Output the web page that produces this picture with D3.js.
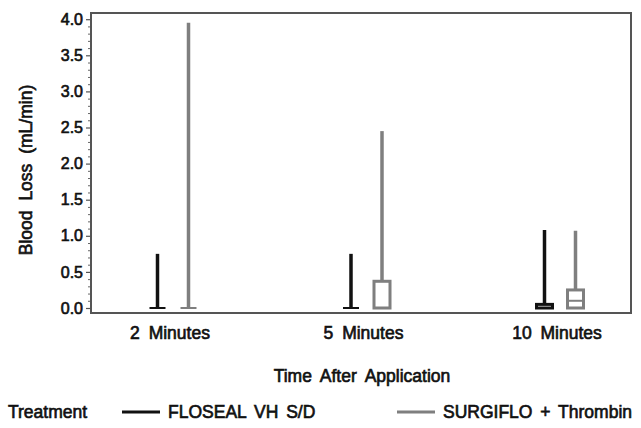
<!DOCTYPE html>
<html><head><meta charset="utf-8">
<script src="https://cdn.jsdelivr.net/npm/d3@7"></script>
<style>
html,body{margin:0;padding:0;background:#fff;}
text{font-family:"Liberation Sans",Arial,sans-serif;fill:#111;stroke:#111;stroke-width:0.65px;font-size:17.5px;}
</style></head>
<body>
<svg id="chart" width="641" height="428"></svg>
<script>
const categories = ["2 Minutes", "5 Minutes", "10 Minutes"];
const seriesNames = ["FLOSEAL VH S/D", "SURGIFLO + Thrombin"];
const seriesColors = ["#111111", "#7f7f7f"];
const flosealMin = [0, 0, 0];
const flosealQ1 = [0, 0, 0];
const flosealMedian = [0, 0, 0];
const flosealQ3 = [0, 0, 0.05];
const flosealMax = [0.75, 0.75, 1.08];
const surgifloMin = [0, 0, 0];
const surgifloQ1 = [0, 0, 0];
const surgifloMedian = [0, 0, 0.1];
const surgifloQ3 = [0, 0.37, 0.25];
const surgifloMax = [3.95, 2.45, 1.07];
const yTicks = [0, 0.5, 1, 1.5, 2, 2.5, 3, 3.5, 4];
const yMinorTicks = d3.range(0, 40).map(i => i / 10).filter(v => Math.abs(v * 2 - Math.round(v * 2)) > 1e-6);

const series = [
  {name: seriesNames[0], color: seriesColors[0], min: flosealMin, q1: flosealQ1, med: flosealMedian, q3: flosealQ3, max: flosealMax},
  {name: seriesNames[1], color: seriesColors[1], min: surgifloMin, q1: surgifloQ1, med: surgifloMedian, q3: surgifloQ3, max: surgifloMax}
];

const svg = d3.select("#chart");
const frame = {left: 91, top: 13, right: 631, bottom: 313};
const y = d3.scaleLinear().domain([0, 4]).range([308, 19.2]);
const x = d3.scalePoint().domain(categories).range([frame.left + 82, frame.right - 71]);
const dodge = d3.scalePoint().domain(seriesNames).range([-15.5, 15.5]);

// frame
svg.append("rect").attr("x", frame.left).attr("y", frame.top)
  .attr("width", frame.right - frame.left).attr("height", frame.bottom - frame.top)
  .attr("fill", "none").attr("stroke", "#555").attr("stroke-width", 2);

// y axis
const yAxis = d3.axisLeft(y).tickValues(yTicks).tickFormat(d3.format(".1f")).tickSize(4).tickPadding(3);
const gy = svg.append("g").attr("transform", `translate(${frame.left - 1},0)`).call(yAxis);
gy.select(".domain").remove();
gy.selectAll("line").attr("stroke", "#555").attr("stroke-width", 1.2);
gy.selectAll("text").attr("font-family", null).attr("font-size", null).attr("fill", "#111")
  .style("font-size", "16px");
const yMinor = d3.axisLeft(y).tickValues(yMinorTicks).tickFormat("").tickSize(2);
const gym = svg.append("g").attr("transform", `translate(${frame.left - 1},0)`).call(yMinor);
gym.select(".domain").remove();
gym.selectAll("line").attr("stroke", "#666").attr("stroke-width", 1);

// x labels
svg.append("g").selectAll("text").data(categories).join("text")
  .attr("x", d => x(d) - 3).attr("y", 339).attr("text-anchor", "middle")
  .attr("word-spacing", "4px")
  .text(d => d);

// axis titles
svg.append("text").attr("transform", "translate(32,170) rotate(-90)").attr("text-anchor", "middle")
  .attr("word-spacing", "5px").text("Blood Loss (mL/min)");
svg.append("text").attr("x", 362).attr("y", 382).attr("text-anchor", "middle")
  .attr("word-spacing", "4px").text("Time After Application");

// boxes
const boxW = 16;
series.forEach(s => {
  const g = svg.append("g");
  categories.forEach((c, i) => {
    const cx = x(c) + dodge(s.name);
    g.append("line").attr("x1", cx).attr("x2", cx).attr("y1", y(s.q3[i])).attr("y2", y(s.max[i]))
      .attr("stroke", s.color).attr("stroke-width", 3.5);
    if (s.min[i] < s.q1[i]) {
      g.append("line").attr("x1", cx).attr("x2", cx).attr("y1", y(s.q1[i])).attr("y2", y(s.min[i]))
        .attr("stroke", s.color).attr("stroke-width", 3.5);
    }
    g.append("rect").attr("x", cx - boxW / 2).attr("y", y(s.q3[i]))
      .attr("width", boxW).attr("height", Math.max(0, y(s.q1[i]) - y(s.q3[i])))
      .attr("fill", "#fff").attr("stroke", s.color).attr("stroke-width", 3);
    g.append("line").attr("x1", cx - boxW / 2).attr("x2", cx + boxW / 2)
      .attr("y1", y(s.med[i])).attr("y2", y(s.med[i]))
      .attr("stroke", s.color).attr("stroke-width", 2);
  });
});

// legend
const ly = 412;
svg.append("text").attr("x", 8).attr("y", ly + 6).text("Treatment");
const legendX = [122, 397];
series.forEach((s, i) => {
  svg.append("line").attr("x1", legendX[i]).attr("x2", legendX[i] + 38).attr("y1", ly).attr("y2", ly)
    .attr("stroke", s.color).attr("stroke-width", 3);
  svg.append("text").attr("x", legendX[i] + 46).attr("y", ly + 6)
    .attr("word-spacing", "3px").text(s.name);
});
</script>
</body></html>
